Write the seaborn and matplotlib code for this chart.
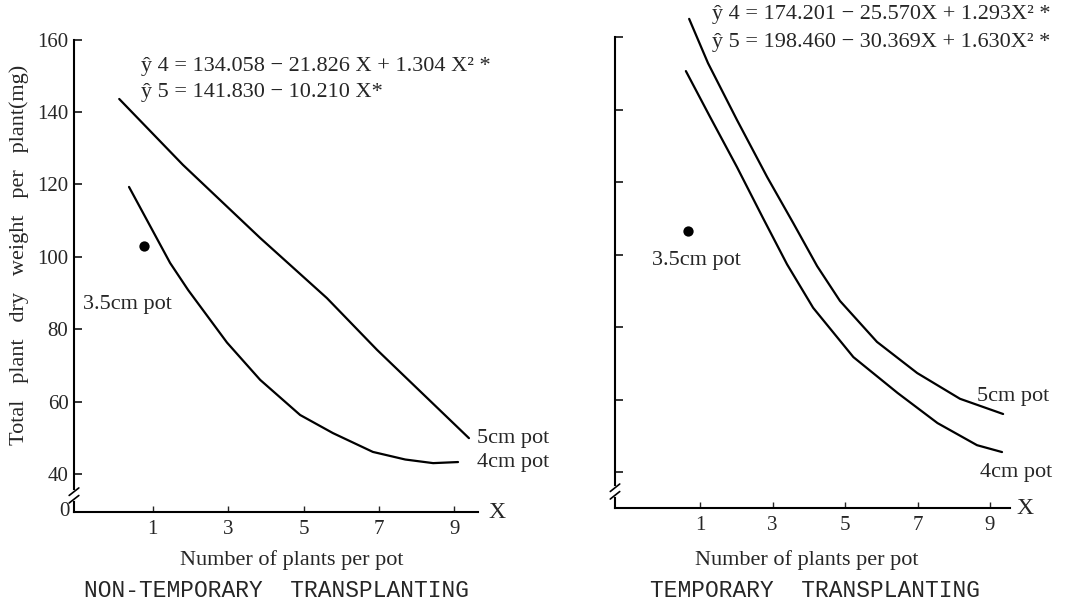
import matplotlib
matplotlib.use("Agg")
import matplotlib.pyplot as plt
import pandas as pd
import seaborn as sns

# values
# non-temporary transplanting
nt_x_4cm = [0.37, 1.46, 1.94, 2.97, 3.85, 4.91, 5.78, 6.84, 7.70, 8.44, 9.10]
nt_y_4cm = [119.3, 98.3, 90.8, 76.3, 66.0, 56.3, 51.3, 46.1, 44.0, 43.0, 43.3]
nt_x_5cm = [0.11, 1.80, 3.85, 5.62, 6.95, 9.39]
nt_y_5cm = [143.6, 125.4, 105.2, 88.6, 74.3, 49.9]
nt_dot_x = [0.77]
nt_dot_y = [103.0]

# temporary transplanting
tt_x_4cm = [0.61, 1.28, 2.02, 2.74, 3.40, 4.12, 5.23, 6.45, 7.55, 8.64, 9.33]
tt_y_4cm = [150.6, 137.9, 124.1, 110.0, 97.3, 85.3, 71.7, 61.8, 53.5, 47.4, 45.5]
tt_x_5cm = [0.70, 1.22, 2.02, 2.85, 3.57, 4.23, 4.86, 5.88, 6.99, 8.17, 9.36]
tt_y_5cm = [165.0, 152.8, 137.1, 121.4, 108.7, 96.8, 87.2, 75.9, 67.3, 60.2, 56.0]
tt_dot_x = [0.67]
tt_dot_y = [106.5]

x_ticks = [1, 3, 5, 7, 9]
y_ticks = [40, 60, 80, 100, 120, 140, 160]

nt_eq = ["\u0177 4 = 134.058 \u2212 21.826 X + 1.304 X\u00b2 *",
         "\u0177 5 = 141.830 \u2212 10.210 X*"]
tt_eq = ["\u0177 4 = 174.201 \u2212 25.570X + 1.293X\u00b2 *",
         "\u0177 5 = 198.460 \u2212 30.369X + 1.630X\u00b2 *"]

sns.set_style("ticks")
serif = ["Liberation Serif", "DejaVu Serif"]
mono = ["Liberation Mono", "DejaVu Sans Mono"]
plt.rcParams["font.family"] = serif

W, H = 1067, 603


def fpos(px, py):
    return px / W, 1 - py / H


fig = plt.figure(figsize=(W / 100, H / 100), dpi=100)
ax1 = fig.add_axes([74 / W, 1 - 512 / H, (478 - 74) / W, (512 - 39.6) / H])
ax2 = fig.add_axes([615 / W, 1 - 508 / H, (1010 - 615) / W, (508 - 37) / H])

panels = [
    (ax1, nt_x_4cm, nt_y_4cm, nt_x_5cm, nt_y_5cm, nt_dot_x, nt_dot_y),
    (ax2, tt_x_4cm, tt_y_4cm, tt_x_5cm, tt_y_5cm, tt_dot_x, tt_dot_y),
]
for ax, x4, y4, x5, y5, dx, dy in panels:
    df = pd.DataFrame({
        "x": x4 + x5,
        "y": y4 + y5,
        "pot": ["4cm"] * len(x4) + ["5cm"] * len(x5),
    })
    sns.lineplot(data=df, x="x", y="y", units="pot", estimator=None,
                 color="black", lw=1.6, ax=ax, legend=False)
    sns.scatterplot(x=dx, y=dy, color="black", s=55, linewidth=0, ax=ax, legend=False)
    for l in ax.lines:
        l.set_clip_on(False)
    ax.set_xlabel("")
    ax.set_ylabel("")
    ax.set_xticks(x_ticks)
    ax.set_yticks(y_ticks)
    for s in ["top", "right"]:
        ax.spines[s].set_visible(False)
    for s in ["left", "bottom"]:
        ax.spines[s].set_linewidth(1.5)
        ax.spines[s].set_color("black")
    ax.tick_params(axis="y", direction="in", length=6, width=1.3, pad=4, labelsize=15)
    ax.tick_params(axis="x", direction="in", length=4, width=1.0, pad=6, labelsize=15)
    # axis break on the y axis
    ax.plot([0, 0], [0.027, 0.043], transform=ax.transAxes, color="white",
            lw=3, clip_on=False, zorder=4)
    for yb in [0.027, 0.043]:
        ax.plot([-0.012, 0.012], [yb - 0.008, yb + 0.008], transform=ax.transAxes,
                color="black", lw=1.2, clip_on=False, zorder=5)

ax1.set_xlim(-1.09, 9.63)
ax1.set_ylim(29.5, 160)
ax2.set_xlim(-1.345, 9.55)
ax2.set_ylim(30.07, 160)
ax2.tick_params(axis="y", labelleft=False)
ax1.text(-0.012, 0, "0", transform=ax1.transAxes, ha="right", va="center", fontsize=15)

# equations
fig.text(*fpos(141, 66), nt_eq[0], fontsize=16, va="center")
fig.text(*fpos(141, 93), nt_eq[1], fontsize=16, va="center")
fig.text(*fpos(712, 15), tt_eq[0], fontsize=16, va="center")
fig.text(*fpos(712, 43), tt_eq[1], fontsize=16, va="center")

# curve labels
fig.text(*fpos(83, 305), "3.5cm pot", fontsize=16, va="center")
fig.text(*fpos(477, 438), "5cm pot", fontsize=16, va="center")
fig.text(*fpos(477, 462), "4cm pot", fontsize=16, va="center")
fig.text(*fpos(652, 260), "3.5cm pot", fontsize=16, va="center")
fig.text(*fpos(977, 397), "5cm pot", fontsize=16, va="center")
fig.text(*fpos(980, 473), "4cm pot", fontsize=16, va="center")

# axis end marks
fig.text(*fpos(488, 512), "X", fontsize=17, va="center")
fig.text(*fpos(1016, 508), "X", fontsize=17, va="center")

fig.text(*fpos(19, 255), "Total   plant   dry   weight   per   plant(mg)", fontsize=16,
         rotation=90, ha="center", va="center")

fig.text(*fpos(292, 560), "Number of plants per pot", fontsize=16, ha="center", va="center")
fig.text(*fpos(807, 560), "Number of plants per pot", fontsize=16, ha="center", va="center")
fig.text(*fpos(276, 597), "NON-TEMPORARY  TRANSPLANTING", fontsize=16.5, ha="center",
         va="baseline", family=mono)
fig.text(*fpos(815, 597), "TEMPORARY  TRANSPLANTING", fontsize=16.5, ha="center",
         va="baseline", family=mono)

fig.savefig("out.png", dpi=100, facecolor="white")
